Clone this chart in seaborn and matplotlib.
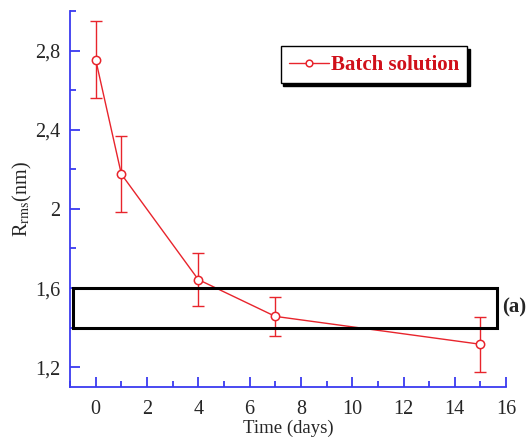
import matplotlib
matplotlib.use('Agg')
import matplotlib.pyplot as plt
import matplotlib.patches as patches
from matplotlib.ticker import FuncFormatter, MultipleLocator
import seaborn as sns
import pandas as pd

# Data
time_days = [0, 1, 4, 7, 15]
r_rms = [2.755, 2.176, 1.643, 1.457, 1.316]
r_err = [0.195, 0.19, 0.135, 0.10, 0.14]
series_label = 'Batch solution'

# highlighted band (a)
band_x = [-0.9, 15.65]
band_y = [1.4, 1.6]

sns.set_style('ticks')
plt.rcParams['font.family'] = ['Liberation Serif', 'DejaVu Serif']
plt.rcParams['mathtext.fontset'] = 'stix'

df = pd.DataFrame({'Time': time_days, 'Rrms': r_rms})

fig = plt.figure(figsize=(5.28, 4.38), dpi=100)
ax = fig.add_axes([0.1326, 0.1164, 0.826, 0.8584])

red = '#e8242c'
ax.errorbar(time_days, r_rms, yerr=r_err, fmt='none', ecolor=red,
            elinewidth=1.0, capsize=4, capthick=1.0, zorder=2)
sns.lineplot(data=df, x='Time', y='Rrms', ax=ax, color=red, lw=1.0,
             marker='o', markersize=6, markerfacecolor='white',
             markeredgecolor=red, markeredgewidth=1.1,
             label=series_label, zorder=3)

ax.add_patch(patches.Rectangle((band_x[0], band_y[0]), band_x[1] - band_x[0],
                               band_y[1] - band_y[0], fill=False,
                               edgecolor='black', lw=2.2, clip_on=False, zorder=4))
ax.text(15.85, 1.5, '(a)', fontsize=15, fontweight='bold', va='center',
        ha='left', transform=ax.transData, clip_on=False)

ax.set_xlim(-1, 16)
ax.set_ylim(1.1, 3.0)
ax.xaxis.set_major_locator(MultipleLocator(2))
ax.xaxis.set_minor_locator(MultipleLocator(1))
ax.yaxis.set_major_locator(MultipleLocator(0.4))
ax.yaxis.set_minor_locator(MultipleLocator(0.2))
ax.yaxis.set_major_formatter(FuncFormatter(lambda v, p: ('%g' % round(v, 2)).replace('.', ',')))

blue = '#3a3af0'
for side in ['top', 'right']:
    ax.spines[side].set_visible(False)
for side in ['left', 'bottom']:
    ax.spines[side].set_color(blue)
    ax.spines[side].set_linewidth(1.3)
ax.tick_params(which='both', direction='in', color=blue, width=1.3, labelsize=14.5)
ax.tick_params(axis='x', which='major', length=7, pad=9)
ax.tick_params(axis='y', which='major', length=7, pad=7)
ax.tick_params(which='minor', length=4)

ax.set_xlabel('Time (days)', fontsize=13.5, labelpad=1)
ax.set_ylabel(r'R$_{\mathrm{rms}}$(nm)', fontsize=14.5, labelpad=1)

leg = ax.legend(loc='center', bbox_to_anchor=(0.697, 0.857), frameon=True,
                fancybox=False, shadow={'color': 'black', 'alpha': 1.0, 'ox': 2, 'oy': -2},
                prop={'weight': 'bold', 'size': 15}, handlelength=1.9,
                borderpad=0.4, handletextpad=0.1, markerscale=0.8)
leg.get_frame().set_edgecolor('black')
leg.get_frame().set_linewidth(1.0)
for t in leg.get_texts():
    t.set_color('#d0101a')

fig.savefig('out.png', dpi=100)
